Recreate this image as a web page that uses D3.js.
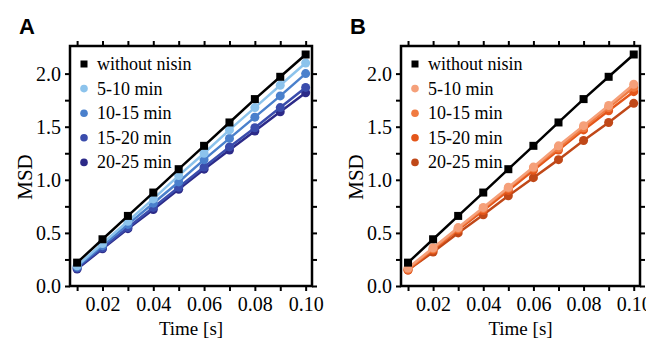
<!DOCTYPE html>
<html>
<head>
<meta charset="utf-8">
<script src="https://cdn.jsdelivr.net/npm/d3@7"></script>
<style>
  body { margin: 0; background: #fff; }
  svg { display: block; }
  .serif { font-family: "Liberation Serif", "Times New Roman", serif; fill: #000; }
  .panel { font-family: "Liberation Sans", Arial, sans-serif; font-weight: bold; font-size: 22px; }
</style>
</head>
<body>
<div id="chart"></div>
<script>

// time lags (s)
var times = [0.01, 0.02, 0.03, 0.04, 0.05, 0.06, 0.07, 0.08, 0.09, 0.10];
var seriesNames = ["without nisin", "5-10 min", "10-15 min", "15-20 min", "20-25 min"];

// panel A
var msdA_none  = [0.22, 0.44, 0.66, 0.88, 1.10, 1.32, 1.54, 1.76, 1.97, 2.18];
var msdA_5_10  = [0.19, 0.40, 0.61, 0.82, 1.04, 1.25, 1.47, 1.68, 1.89, 2.10];
var msdA_10_15 = [0.18, 0.38, 0.58, 0.78, 0.98, 1.19, 1.39, 1.59, 1.79, 2.00];
var msdA_15_20 = [0.17, 0.36, 0.55, 0.74, 0.93, 1.12, 1.31, 1.49, 1.68, 1.87];
var msdA_20_25 = [0.16, 0.35, 0.54, 0.72, 0.91, 1.10, 1.28, 1.46, 1.64, 1.82];

// panel B
var msdB_none  = [0.22, 0.44, 0.66, 0.88, 1.10, 1.32, 1.54, 1.76, 1.97, 2.18];
var msdB_5_10  = [0.17, 0.36, 0.55, 0.74, 0.93, 1.12, 1.32, 1.51, 1.70, 1.90];
var msdB_10_15 = [0.16, 0.35, 0.54, 0.73, 0.92, 1.11, 1.30, 1.49, 1.68, 1.87];
var msdB_15_20 = [0.15, 0.34, 0.53, 0.71, 0.90, 1.09, 1.28, 1.47, 1.65, 1.83];
var msdB_20_25 = [0.15, 0.32, 0.50, 0.67, 0.85, 1.02, 1.19, 1.37, 1.54, 1.72];

var colorsA = ["#000000", "#8cc3ec", "#4a80cc", "#3a4cac", "#2c2a88"];
var colorsB = ["#000000", "#f5a07a", "#f07a40", "#e4561a", "#c04818"];

var xTicks = [0.01, 0.02, 0.03, 0.04, 0.05, 0.06, 0.07, 0.08, 0.09, 0.10];
var yTicks = [0, 0.25, 0.5, 0.75, 1.0, 1.25, 1.5, 1.75, 2.0];

var W = 646, H = 339;

var svg = d3.select("#chart").append("svg")
  .attr("width", W)
  .attr("height", H);

function drawPanel(opt) {
  var x = d3.scaleLinear().domain([0.0072, 0.1025]).range([opt.left, opt.right]);
  var y = d3.scaleLinear().domain([0, 2.26]).range([286, 46]);

  var g = svg.append("g");

  // mirrored axes, ticks outward on every side
  var bottom = d3.axisBottom(x).tickValues(xTicks).tickSize(5).tickPadding(6)
    .tickFormat(function(d){ return Math.round(d * 100) % 2 === 0 ? d3.format(".2f")(d) : ""; });
  var top = d3.axisTop(x).tickValues(xTicks).tickSize(5).tickFormat("");
  var left = d3.axisLeft(y).tickValues(yTicks).tickSize(5).tickPadding(4)
    .tickFormat(function(d){ return (d * 2) % 1 === 0 ? d3.format(".1f")(d) : ""; });
  var right = d3.axisRight(y).tickValues(yTicks).tickSize(5).tickFormat("");

  [[bottom, "translate(0,286)"], [top, "translate(0,46)"],
   [left, "translate(" + opt.left + ",0)"], [right, "translate(" + opt.right + ",0)"]]
   .forEach(function(a){
    var ax = g.append("g").attr("transform", a[1]).call(a[0]);
    ax.select(".domain").remove();
    ax.selectAll(".tick line").attr("stroke", "#000").attr("stroke-width", 2);
    ax.selectAll(".tick text")
      .attr("class", "serif")
      .style("font-family", "'Liberation Serif', serif")
      .style("font-size", "20px");
  });

  g.append("rect")
    .attr("x", x(0.0072)).attr("y", y(2.26))
    .attr("width", x(0.1025) - x(0.0072)).attr("height", y(0) - y(2.26))
    .attr("fill", "none").attr("stroke", "#000").attr("stroke-width", 2.5);

  var line = d3.line()
    .x(function(d){ return x(d[0]); })
    .y(function(d){ return y(d[1]); });

  // draw darkest series first, black reference on top
  for (var k = opt.series.length - 1; k >= 0; k--) {
    var pts = times.map(function(t, i){ return [t, opt.series[k][i]]; });
    g.append("path")
      .attr("d", line(pts))
      .attr("fill", "none")
      .attr("stroke", opt.colors[k])
      .attr("stroke-width", 2.5);
    if (k === 0) {
      g.selectAll(null).data(pts).enter().append("rect")
        .attr("x", function(d){ return x(d[0]) - 4; })
        .attr("y", function(d){ return y(d[1]) - 4; })
        .attr("width", 8).attr("height", 8)
        .attr("fill", opt.colors[k]);
    } else {
      g.selectAll(null).data(pts).enter().append("circle")
        .attr("cx", function(d){ return x(d[0]); })
        .attr("cy", function(d){ return y(d[1]); })
        .attr("r", 4.5)
        .attr("fill", opt.colors[k]);
    }
  }

  // legend
  var lg = g.append("g");
  seriesNames.forEach(function(name, i){
    var cy = 64 + i * 24.6;
    var mx = opt.left + 14;
    if (i === 0) {
      lg.append("rect").attr("x", mx - 3.5).attr("y", cy - 3.5)
        .attr("width", 7).attr("height", 7).attr("fill", opt.colors[i]);
    } else {
      lg.append("circle").attr("cx", mx).attr("cy", cy).attr("r", 3.8)
        .attr("fill", opt.colors[i]);
    }
    lg.append("text")
      .attr("class", "serif")
      .attr("x", mx + 13)
      .attr("y", cy + 6)
      .style("font-family", "'Liberation Serif', serif")
      .style("font-size", "18px")
      .text(name);
  });

  // axis titles
  g.append("text")
    .attr("class", "serif")
    .attr("transform", "translate(" + (opt.left - 45) + "," + 177 + ") rotate(-90)")
    .attr("text-anchor", "middle")
    .attr("dy", "0.35em")
    .style("font-size", "21px")
    .text("MSD");

  g.append("text")
    .attr("class", "serif")
    .attr("x", (opt.left + opt.right) / 2)
    .attr("y", 335)
    .attr("text-anchor", "middle")
    .style("font-size", "19px")
    .text("Time [s]");

  svg.append("text")
    .attr("class", "panel")
    .attr("x", opt.labelX)
    .attr("y", 34)
    .text(opt.label);
}

drawPanel({ left: 70, right: 312, label: "A", labelX: 19,
  series: [msdA_none, msdA_5_10, msdA_10_15, msdA_15_20, msdA_20_25], colors: colorsA });
drawPanel({ left: 401, right: 640, label: "B", labelX: 350,
  series: [msdB_none, msdB_5_10, msdB_10_15, msdB_15_20, msdB_20_25], colors: colorsB });

</script>
</body>
</html>
